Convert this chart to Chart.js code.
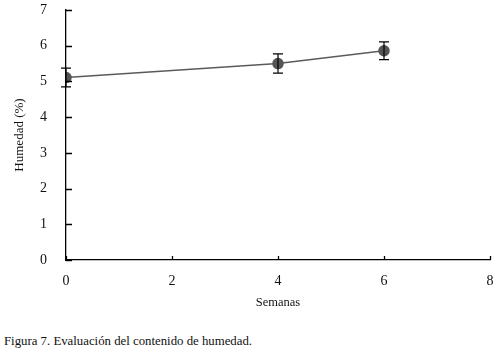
<!DOCTYPE html>
<html>
<head>
<meta charset="utf-8">
<script src="https://cdn.jsdelivr.net/npm/chart.js@4/dist/chart.umd.min.js"></script>
<style>
  html, body { margin: 0; padding: 0; background: #fff; }
  #wrap { position: relative; width: 497px; height: 320px; }
  #caption { position: absolute; left: 4px; top: 334px; font-family: "Liberation Serif", "DejaVu Serif", serif; font-size: 12.8px; color: #111; white-space: nowrap; }
</style>
</head>
<body>
<div id="wrap"><canvas id="c" width="497" height="320"></canvas></div>
<div id="caption">Figura 7. Evaluación del contenido de humedad.</div>
<script>
const weeks = [0, 4, 6];
const humidity = [5.11, 5.50, 5.86];
const errors = [0.26, 0.27, 0.25];
const xTicks = [0, 2, 4, 6, 8];
const yTicks = [0, 1, 2, 3, 4, 5, 6, 7];

const serif = '"Liberation Serif", "DejaVu Serif", serif';

const errorBarsAndTicks = {
  id: 'errorBarsAndTicks',
  afterDatasetsDraw(chart) {
    const ctx = chart.ctx;
    const xs = chart.scales.x, ys = chart.scales.y;
    ctx.save();
    ctx.strokeStyle = '#000';
    ctx.lineWidth = 1.3;
    ctx.beginPath();
    yTicks.forEach(v => {
      const py = Math.round(ys.getPixelForValue(v)) + 0.5;
      ctx.moveTo(xs.left, py); ctx.lineTo(xs.left + 6, py);
    });
    xTicks.forEach(v => {
      const px = Math.round(xs.getPixelForValue(v)) + 0.5;
      ctx.moveTo(px, ys.bottom); ctx.lineTo(px, ys.bottom - 4);
    });
    ctx.stroke();
    ctx.lineWidth = 1.2;
    ctx.beginPath();
    weeks.forEach((w, i) => {
      const px = xs.getPixelForValue(w);
      const top = ys.getPixelForValue(humidity[i] + errors[i]);
      const bot = ys.getPixelForValue(humidity[i] - errors[i]);
      ctx.moveTo(px, top); ctx.lineTo(px, bot);
      ctx.moveTo(px - 5, top); ctx.lineTo(px + 5, top);
      ctx.moveTo(px - 5, bot); ctx.lineTo(px + 5, bot);
    });
    ctx.stroke();
    ctx.restore();
  }
};

new Chart(document.getElementById('c'), {
  type: 'line',
  data: {
    datasets: [{
      data: weeks.map((w, i) => ({ x: w, y: humidity[i] })),
      borderColor: '#5a5a5a',
      backgroundColor: '#555555',
      pointBackgroundColor: '#555555',
      pointBorderColor: '#555555',
      borderWidth: 1.5,
      pointRadius: 5,
      tension: 0
    }]
  },
  options: {
    responsive: false,
    animation: false,
    devicePixelRatio: 1,
    layout: { padding: { top: 10, right: 7, bottom: 0, left: 0 } },
    plugins: { legend: { display: false }, tooltip: { enabled: false } },
    scales: {
      x: {
        type: 'linear', min: 0, max: 8,
        afterBuildTicks: s => { s.ticks = xTicks.map(v => ({ value: v })); },
        border: { display: true, color: '#000', width: 1.3 },
        grid: { display: false, drawTicks: false },
        ticks: { padding: 13, color: '#111', font: { family: serif, size: 14 } },
        title: { display: true, text: 'Semanas', color: '#111', font: { family: serif, size: 12.5 }, padding: { top: 10, bottom: 10 } },
        afterFit: s => { s.height = 60; s.paddingLeft = 0; s.paddingRight = 0; }
      },
      y: {
        type: 'linear', min: 0, max: 7,
        afterBuildTicks: s => { s.ticks = yTicks.map(v => ({ value: v })); },
        border: { display: true, color: '#000', width: 1.3 },
        grid: { display: false, drawTicks: false },
        ticks: { padding: 19, color: '#111', font: { family: serif, size: 14 } },
        title: { display: true, text: 'Humedad (%)', color: '#111', font: { family: serif, size: 13 }, padding: { top: 12, bottom: 12 } },
        afterFit: s => { s.width = 66; s.paddingTop = 0; s.paddingBottom = 0; }
      }
    }
  },
  plugins: [errorBarsAndTicks]
});
</script>
</body>
</html>
